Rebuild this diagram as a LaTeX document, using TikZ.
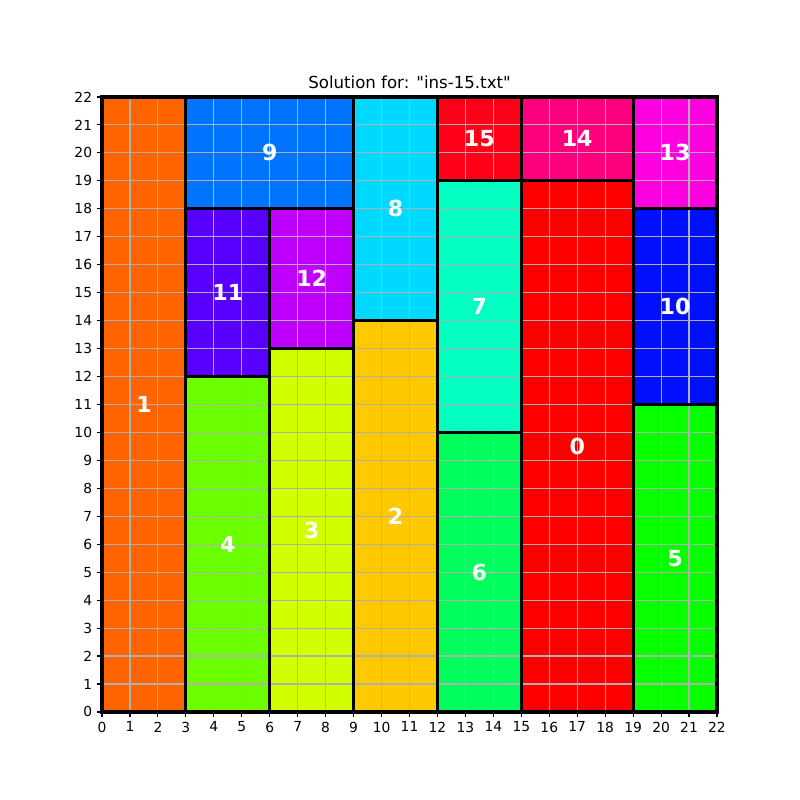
\documentclass[tikz,border=0pt]{standalone}
\usepackage{fontspec}
\setmainfont{DejaVu Sans}

% one colour per piece
\definecolor{col0}{HTML}{FF0000}
\definecolor{col1}{HTML}{FF6400}
\definecolor{col2}{HTML}{FFC900}
\definecolor{col3}{HTML}{D1FF00}
\definecolor{col4}{HTML}{6CFF00}
\definecolor{col5}{HTML}{08FF00}
\definecolor{col6}{HTML}{00FF5C}
\definecolor{col7}{HTML}{00FFC1}
\definecolor{col8}{HTML}{00D9FF}
\definecolor{col9}{HTML}{0074FF}
\definecolor{col10}{HTML}{0010FF}
\definecolor{col11}{HTML}{5700FF}
\definecolor{col12}{HTML}{BF00FF}
\definecolor{col13}{HTML}{FF00E1}
\definecolor{col14}{HTML}{FF007C}
\definecolor{col15}{HTML}{FF0018}
\definecolor{gridgray}{HTML}{B0B0B0}

% id / x0 / y0 / x1 / y1
\newcommand{\pieces}{
    0/15/0/19/19, 1/0/0/3/22, 2/9/0/12/14, 3/6/0/9/13,
    4/3/0/6/12, 5/19/0/22/11, 6/12/0/15/10, 7/12/10/15/19,
    8/9/14/12/22, 9/3/18/9/22, 10/19/11/22/18, 11/3/12/6/18,
    12/6/13/9/18, 13/19/18/22/22, 14/15/19/19/22, 15/12/19/15/22}

\begin{document}
\begin{tikzpicture}[x=0.71cm, y=0.71cm,
  edge/.style={draw=black, line width=2.3pt},
  tag/.style={text=white, inner sep=0pt, font=\bfseries\fontsize{16}{16}\selectfont},
  ticklab/.style={inner sep=0pt, font=\fontsize{10}{12}\selectfont}]

\useasboundingbox (-3.65,-3.15) rectangle (24.97,25.47);

% piece fills
\foreach \n/\xa/\ya/\xb/\yb in \pieces
  \fill[col\n] (\xa,\ya) rectangle (\xb,\yb);

% grid
\draw[gridgray, line width=0.8pt, step=1] (0,0) grid (22,22);

% piece outlines
\foreach \n/\xa/\ya/\xb/\yb in \pieces
  \draw[edge] (\xa,\ya) rectangle (\xb,\yb);
\draw[line width=0.8pt] (0,0) rectangle (22,22);

% ticks
\foreach \i in {0,...,22} {
  \draw[line width=0.8pt] (\i,0) -- (\i,-0.174);
  \node[ticklab, anchor=north] (xl\i) at (\i,0) [yshift=-7pt] {\i};
  \draw[line width=0.8pt] (0,\i) -- (-0.174,\i);
  \node[ticklab, anchor=east] (yl\i) at (0,\i) [xshift=-7pt] {\i};
}

% piece numbers
\foreach \n/\xa/\ya/\xb/\yb in \pieces
  \node[tag] (t\n) at ({(\xa+\xb)/2},{(\ya+\yb)/2}) {\n};

\node[anchor=base, inner sep=0pt, font=\fontsize{12}{14}\selectfont] (title)
  at (11,22) [yshift=6pt] {Solution for: \textquotedbl ins-15.txt\textquotedbl};

\end{tikzpicture}
\end{document}
